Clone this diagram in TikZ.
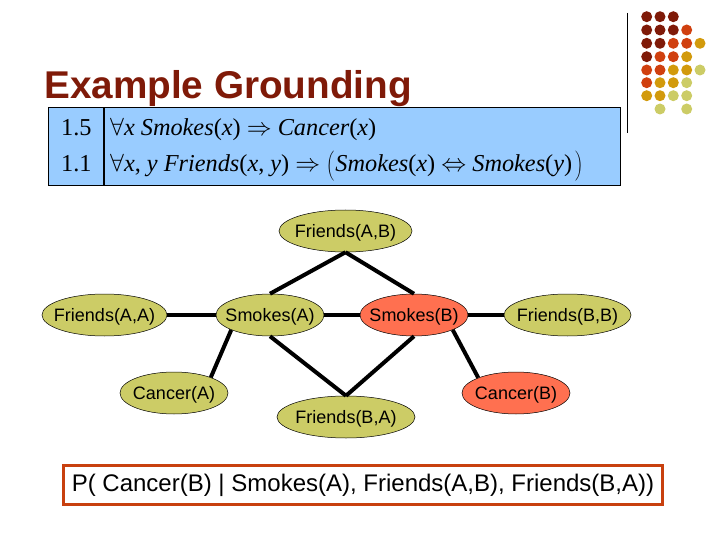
\documentclass[tikz,border=0pt]{standalone}
\usepackage{xcolor}
\usepackage{fontspec}
\setmainfont{Liberation Sans}
\newfontfamily\formulafont{Liberation Serif}
\usetikzlibrary{shapes.geometric}
\definecolor{darkDot}{HTML}{7F1A08}
\definecolor{orangeDot}{HTML}{D0400F}
\definecolor{goldDot}{HTML}{D29A0C}
\definecolor{paleDot}{HTML}{CCCC66}
\definecolor{titleRed}{HTML}{7F1A08}
\definecolor{cellBlue}{HTML}{99CCFF}
\definecolor{queryRed}{HTML}{FF7050}
\definecolor{boxRed}{HTML}{C8400F}
\newcommand{\tallParen}[1]{$\left#1\vcenter{\vbox to 30pt{}}\right.$}

\begin{document}
\begin{tikzpicture}[x=1pt, y=-1pt]
% style: atom_style
\tikzstyle{atom_style}=[ellipse,draw=black,line width=0.5pt,fill=paleDot,inner ysep=0pt,inner xsep=-30pt,minimum height=42pt,text height=17pt,text depth=3.6pt,font=\fontsize{18}{20}\selectfont]
% style: query_style
\tikzstyle{query_style}=[atom_style,fill=queryRed]
% style: cell_style
\tikzstyle{cell_style}=[rectangle,draw=black,line width=1pt,fill=cellBlue,minimum height=78pt,inner sep=0pt]
% style: formula_style
\tikzstyle{formula_style}=[anchor=base west,inner sep=0pt,font=\formulafont\fontsize{24.3}{26}\selectfont]
% style: defaultEdge
\tikzstyle{defaultEdge}=[black,line width=4pt]
% style: dot_style
\tikzstyle{dot_style}=[circle,inner sep=0pt,minimum size=11pt]
\tikzstyle{darkDot_style}=[dot_style,fill=darkDot]
\tikzstyle{orangeDot_style}=[dot_style,fill=orangeDot]
\tikzstyle{goldDot_style}=[dot_style,fill=goldDot]
\tikzstyle{paleDot_style}=[dot_style,fill=paleDot]

\useasboundingbox (0,0) rectangle (720,540);

% node group: corner_group
% node: corner_rule
\coordinate (corner_top) at (627,13);
\coordinate (corner_bottom) at (627,133);
\draw[black,line width=1pt] (corner_top) -- (corner_bottom);
\node[darkDot_style] (dot_1_1) at (646.7,16.7) {};
\node[darkDot_style] (dot_1_2) at (660,16.7) {};
\node[darkDot_style] (dot_1_3) at (673.3,16.7) {};
\node[darkDot_style] (dot_2_1) at (646.7,30) {};
\node[darkDot_style] (dot_2_2) at (660,30) {};
\node[darkDot_style] (dot_2_3) at (673.3,30) {};
\node[orangeDot_style] (dot_2_4) at (686.7,30) {};
\node[darkDot_style] (dot_3_1) at (646.7,43.3) {};
\node[darkDot_style] (dot_3_2) at (660,43.3) {};
\node[orangeDot_style] (dot_3_3) at (673.3,43.3) {};
\node[orangeDot_style] (dot_3_4) at (686.7,43.3) {};
\node[goldDot_style] (dot_3_5) at (700,43.3) {};
\node[darkDot_style] (dot_4_1) at (646.7,56.7) {};
\node[orangeDot_style] (dot_4_2) at (660,56.7) {};
\node[orangeDot_style] (dot_4_3) at (673.3,56.7) {};
\node[goldDot_style] (dot_4_4) at (686.7,56.7) {};
\node[orangeDot_style] (dot_5_1) at (646.7,70) {};
\node[orangeDot_style] (dot_5_2) at (660,70) {};
\node[goldDot_style] (dot_5_3) at (673.3,70) {};
\node[goldDot_style] (dot_5_4) at (686.7,70) {};
\node[paleDot_style] (dot_5_5) at (700,70) {};
\node[orangeDot_style] (dot_6_1) at (646.7,82.7) {};
\node[goldDot_style] (dot_6_2) at (660,82.7) {};
\node[goldDot_style] (dot_6_3) at (673.3,82.7) {};
\node[paleDot_style] (dot_6_4) at (686.7,82.7) {};
\node[goldDot_style] (dot_7_1) at (646.7,95.7) {};
\node[goldDot_style] (dot_7_2) at (660,95.7) {};
\node[paleDot_style] (dot_7_3) at (673.3,95.7) {};
\node[paleDot_style] (dot_7_4) at (686.7,95.7) {};
\node[paleDot_style] (dot_8_2) at (660,109) {};
\node[paleDot_style] (dot_8_4) at (686.7,109) {};
% end of node group: corner_group

% node: title
\node[anchor=base west,inner sep=0pt,text=titleRed,font=\bfseries\fontsize{38.7}{42}\selectfont] (title) at (44,99) {Example Grounding};

% node group: formula_group
% node: weight_cell
\node[cell_style,minimum width=55pt] (weight_cell) at (75.5,147) {};
% node: rule_cell
\node[cell_style,minimum width=516pt] (rule_cell) at (362,147) {};
% node: weight_1
\node[formula_style] (weight_1) at (61,136) {1.5};
% node: weight_2
\node[formula_style] (weight_2) at (61,172) {1.1};
% node: rule_1
\node[formula_style] (rule_1) at (110,136) {$\forall$\textit{x Smokes}(\textit{x}) $\Rightarrow$ \textit{Cancer}(\textit{x})};
% node: rule_2
\node[formula_style] (rule_2) at (110,172) {$\forall$\textit{x}, \textit{y Friends}(\textit{x}, \textit{y}) $\Rightarrow$ \tallParen{(}\textit{Smokes}(\textit{x}) $\Leftrightarrow$ \textit{Smokes}(\textit{y})\hspace{3pt}\tallParen{)}};
% end of node group: formula_group

% node group: atom_group
% node: friends_a_b
\node[atom_style,minimum width=133pt] (friends_a_b) at (345.5,231) {Friends(A,B)};
% node: friends_a_a
\node[atom_style,minimum width=125pt] (friends_a_a) at (104.5,315) {Friends(A,A)};
% node: smokes_a
\node[atom_style,minimum width=108pt] (smokes_a) at (270,315) {Smokes(A)};
% node: smokes_b
\node[query_style,minimum width=108pt] (smokes_b) at (414,315) {Smokes(B)};
% node: friends_b_b
\node[atom_style,minimum width=127pt] (friends_b_b) at (567.5,315) {Friends(B,B)};
% node: cancer_a
\node[atom_style,minimum width=108pt] (cancer_a) at (174,393) {Cancer(A)};
% node: cancer_b
\node[query_style,minimum width=108pt] (cancer_b) at (516,393) {Cancer(B)};
% node: friends_b_a
\node[atom_style,minimum width=138pt] (friends_b_a) at (346,417) {Friends(B,A)};
% end of node group: atom_group

% edge from friends_a_b to smokes_a
\draw[defaultEdge] (friends_a_b.south) -- (smokes_a.north);

% edge from friends_a_b to smokes_b
\draw[defaultEdge] (friends_a_b.south) -- (smokes_b.north);

% edge from friends_a_a to smokes_a
\draw[defaultEdge] (friends_a_a) -- (smokes_a);

% edge from smokes_a to smokes_b
\draw[defaultEdge] (smokes_a) -- (smokes_b);

% edge from smokes_b to friends_b_b
\draw[defaultEdge] (smokes_b) -- (friends_b_b);

% edge from smokes_a to cancer_a
\draw[defaultEdge] (smokes_a.201) -- (cancer_a.23);

% edge from smokes_b to cancer_b
\draw[defaultEdge] (smokes_b.-21) -- (cancer_b.158);

% edge from smokes_a to friends_b_a
\draw[defaultEdge] (smokes_a.south) -- (friends_b_a.north);

% edge from smokes_b to friends_b_a
\draw[defaultEdge] (smokes_b.south) -- (friends_b_a.north);

% node: query_box
\node[rectangle,draw=boxRed,line width=3pt,minimum width=599pt,minimum height=39pt,inner sep=0pt,font=\fontsize{24}{26}\selectfont] (query_box) at (363,485) {P( Cancer(B) | Smokes(A), Friends(A,B), Friends(B,A))};

\end{tikzpicture}
\end{document}
